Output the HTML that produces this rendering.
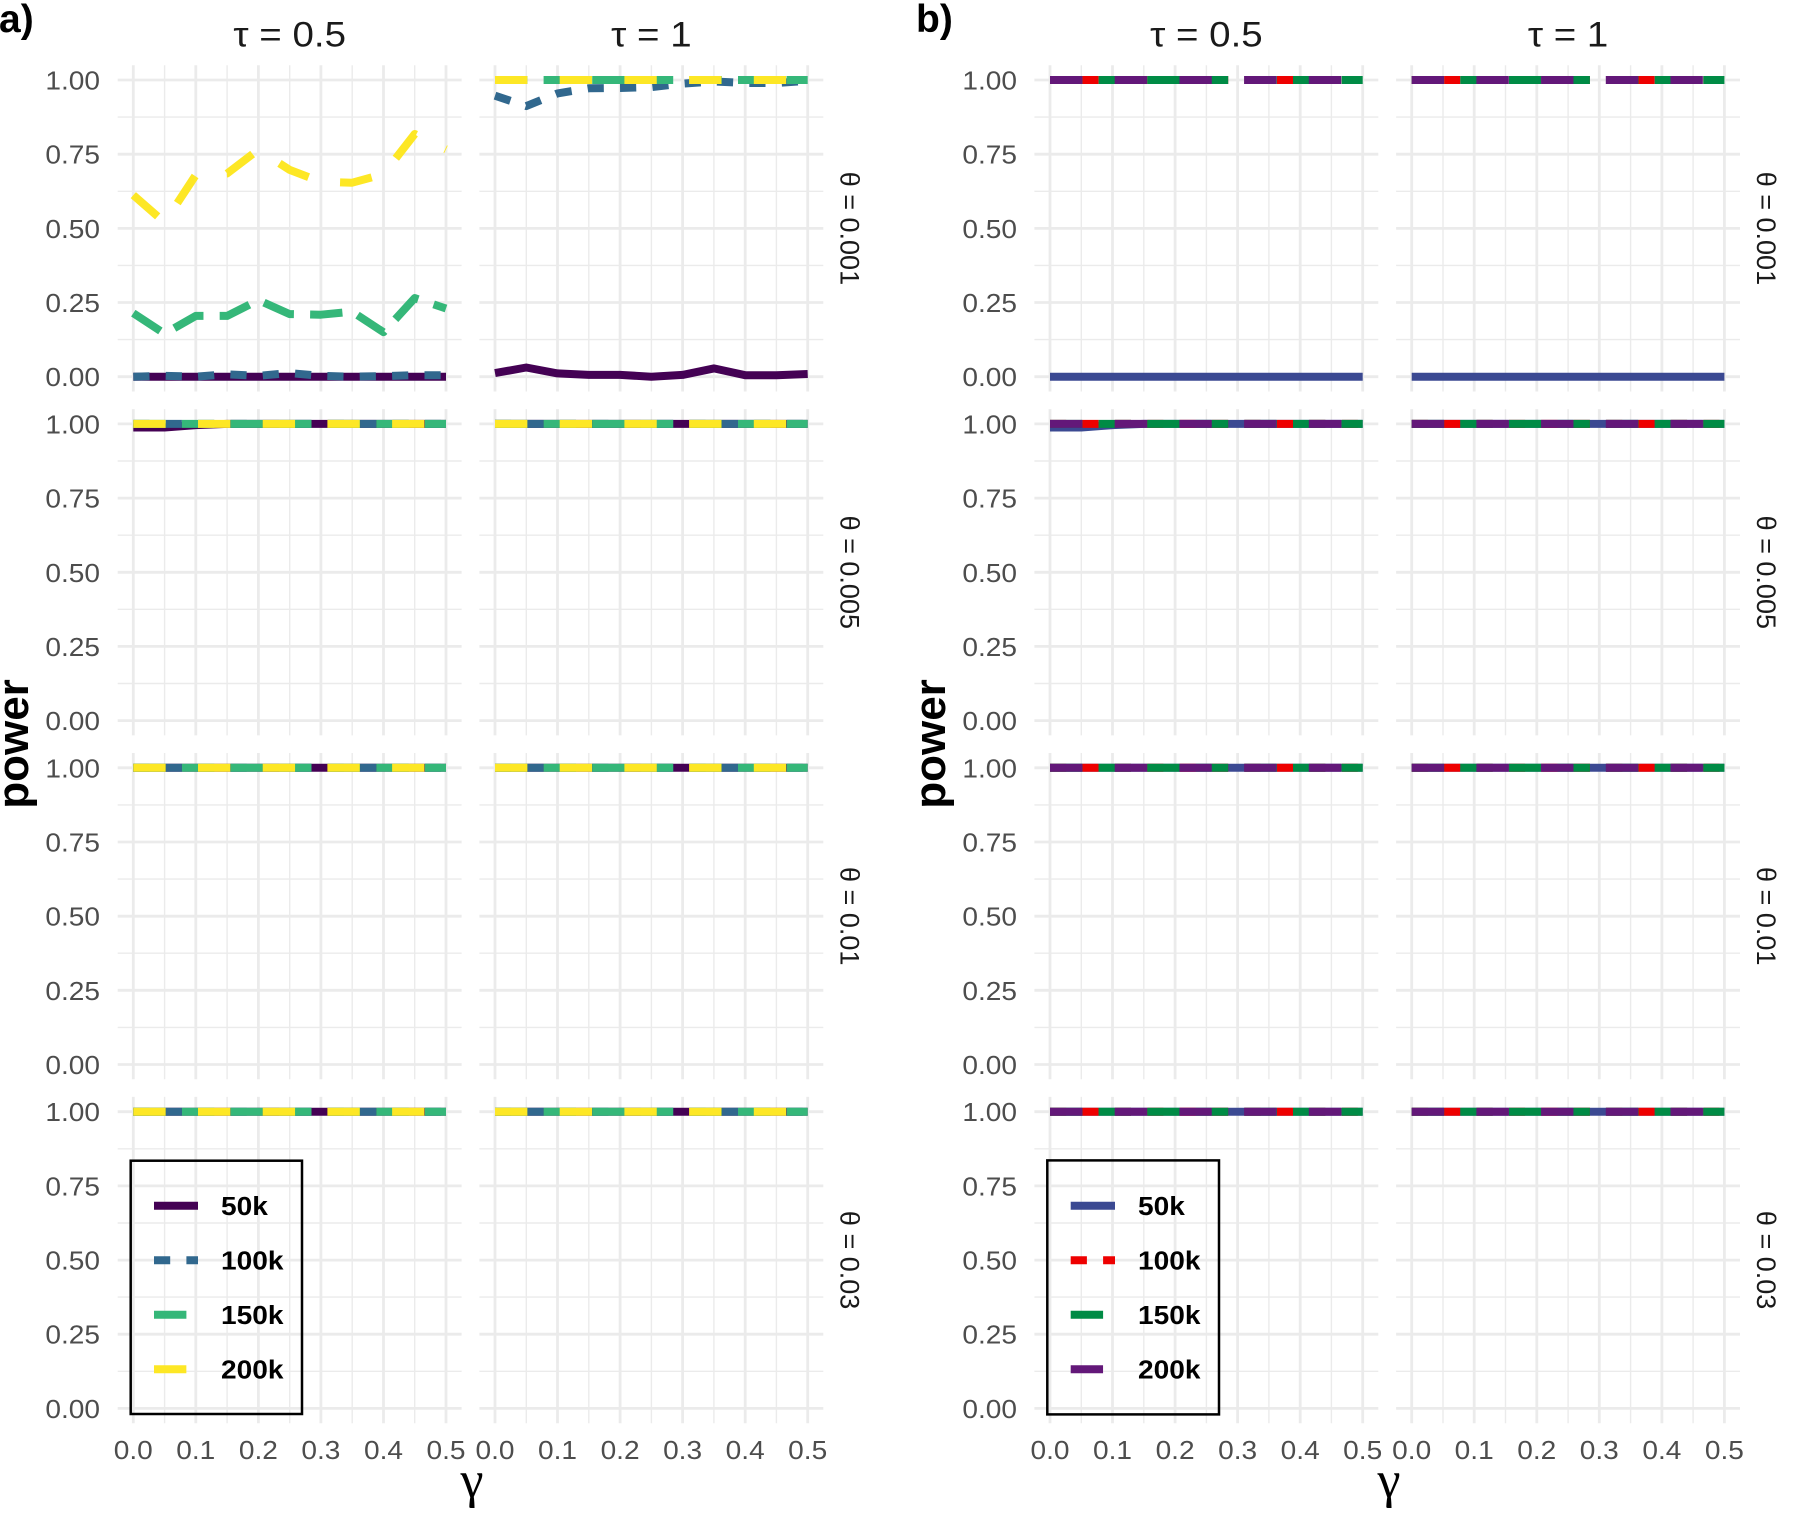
<!DOCTYPE html>
<html><head><meta charset="utf-8"><style>
html,body{margin:0;padding:0;background:#fff;}
svg{display:block;}
.tk{font-family:"Liberation Sans",sans-serif;font-size:26px;fill:#4D4D4D;text-anchor:middle;transform-box:fill-box;transform-origin:50% 50%;transform:scaleX(1.08);}
.ty{font-family:"Liberation Sans",sans-serif;font-size:26px;fill:#4D4D4D;text-anchor:end;transform-box:fill-box;transform-origin:100% 50%;transform:scaleX(1.08);}
.ti{font-family:"Liberation Sans",sans-serif;font-size:35px;fill:#1A1A1A;text-anchor:middle;transform-box:fill-box;transform-origin:50% 50%;transform:scaleX(1.1);}
.st{font-family:"Liberation Sans",sans-serif;font-size:27px;fill:#1A1A1A;text-anchor:middle;}
.lg{font-family:"Liberation Sans",sans-serif;font-size:26px;font-weight:bold;fill:#000;transform-box:fill-box;transform-origin:0% 50%;transform:scaleX(1.08);}
.pw{font-family:"Liberation Sans",sans-serif;font-size:44px;font-weight:bold;fill:#000;text-anchor:middle;}
.lab{font-family:"Liberation Sans",sans-serif;font-size:39px;font-weight:bold;fill:#000;}
.gm{font-family:"Liberation Serif",serif;font-size:52px;fill:#000;text-anchor:middle;}
</style></head><body>
<svg width="1795" height="1520" viewBox="0 0 1795 1520" xmlns="http://www.w3.org/2000/svg">
<defs>
<g id="grid" fill="none" stroke="#EBEBEB">
 <g stroke-width="1.4">
  <path d="M-15.6 37.1H328.3M-15.6 111.3H328.3M-15.6 185.4H328.3M-15.6 259.6H328.3"/>
  <path d="M31.3 -14.8V311.5M93.8 -14.8V311.5M156.4 -14.8V311.5M218.9 -14.8V311.5M281.4 -14.8V311.5"/>
 </g>
 <g stroke-width="2.8">
  <path d="M-15.6 0H328.3M-15.6 74.2H328.3M-15.6 148.4H328.3M-15.6 222.5H328.3M-15.6 296.7H328.3"/>
  <path d="M0 -14.8V311.5M62.5 -14.8V311.5M125.1 -14.8V311.5M187.6 -14.8V311.5M250.2 -14.8V311.5M312.7 -14.8V311.5"/>
 </g>
</g>
<g id="upA" fill="none" stroke-width="8">
 <path d="M0 0H312.7" stroke="#31688E" stroke-dasharray="16.2 16.2"/>
 <path d="M0 0H312.7" stroke="#35B779" stroke-dasharray="32.4 16.2"/>
 <path d="M0 0H312.7" stroke="#FDE725" stroke-dasharray="32.35 32.35"/>
</g>
<g id="upB" fill="none" stroke-width="8">
 <path d="M0 0H312.7" stroke="#EE0000" stroke-dasharray="16.2 16.2"/>
 <path d="M0 0H312.7" stroke="#008B45" stroke-dasharray="32.4 16.2"/>
 <path d="M0 0H312.7" stroke="#631879" stroke-dasharray="32.35 32.35"/>
</g>
<g id="fullA"><path d="M0 0H312.7" stroke="#440154" stroke-width="8" fill="none"/><use href="#upA"/></g>
<g id="fullB"><path d="M0 0H312.7" stroke="#3B4992" stroke-width="8" fill="none"/><use href="#upB"/></g>
</defs>
<rect width="1795" height="1520" fill="#fff"/>

<!-- grids -->
<g transform="translate(133.3,80)"><use href="#grid"/></g>
<g transform="translate(495,80)"><use href="#grid"/></g>
<g transform="translate(1050,80)"><use href="#grid"/></g>
<g transform="translate(1411.7,80)"><use href="#grid"/></g>
<g transform="translate(133.3,423.9)"><use href="#grid"/></g>
<g transform="translate(495,423.9)"><use href="#grid"/></g>
<g transform="translate(1050,423.9)"><use href="#grid"/></g>
<g transform="translate(1411.7,423.9)"><use href="#grid"/></g>
<g transform="translate(133.3,767.8)"><use href="#grid"/></g>
<g transform="translate(495,767.8)"><use href="#grid"/></g>
<g transform="translate(1050,767.8)"><use href="#grid"/></g>
<g transform="translate(1411.7,767.8)"><use href="#grid"/></g>
<g transform="translate(133.3,1111.7)"><use href="#grid"/></g>
<g transform="translate(495,1111.7)"><use href="#grid"/></g>
<g transform="translate(1050,1111.7)"><use href="#grid"/></g>
<g transform="translate(1411.7,1111.7)"><use href="#grid"/></g>

<!-- row 1 a col1 -->
<g transform="translate(133.3,80)" fill="none" stroke-width="8" stroke-linejoin="round">
 <path d="M0 296.7H312.7" stroke="#440154"/>
 <path d="M0 296.7L31.27 295.8L62.54 296.7L93.81 294.3L125.08 295.8L156.35 293.1L187.62 295.8L218.89 296.7L250.16 296.1L281.43 295.2L312.7 295.2" stroke="#31688E" stroke-dasharray="16.2 16.2"/>
 <path d="M0 233.2L31.27 253.7L62.54 235.9L93.81 235.9L125.08 220.1L156.35 234.1L187.62 234.7L218.89 231.7L250.16 252.2L281.43 218.1L312.7 228.5" stroke="#35B779" stroke-dasharray="32.4 16.2"/>
 <path d="M0 115.1L31.27 142.4L62.54 94.9L93.81 93.5L125.08 69.7L156.35 89.9L187.62 101.8L218.89 102.7L250.16 94.1L281.43 54L312.7 69.4" stroke="#FDE725" stroke-dasharray="32.35 32.35"/>
</g>
<!-- row 1 a col2 -->
<g transform="translate(495,80)" fill="none" stroke-width="8" stroke-linejoin="round">
 <path d="M0 293.1L31.27 287.5L62.54 293.4L93.81 294.9L125.08 294.9L156.35 296.7L187.62 294.9L218.89 288.4L250.16 295.2L281.43 295.2L312.7 294" stroke="#440154"/>
 <path d="M0 15.7L31.27 26.1L62.54 13.4L93.81 8.3L125.08 8L156.35 7.1L187.62 3.6L218.89 1.5L250.16 3L281.43 3L312.7 0.9" stroke="#31688E" stroke-dasharray="16.2 16.2"/>
 <path d="M0 0H312.7" stroke="#35B779" stroke-dasharray="32.4 16.2"/>
 <path d="M0 0H312.7" stroke="#FDE725" stroke-dasharray="32.35 32.35"/>
</g>
<!-- row 2 a -->
<g transform="translate(133.3,423.9)">
 <path d="M0 3.6L31.27 3.6L62.54 1.2L93.81 0H312.7" stroke="#440154" stroke-width="8" fill="none" stroke-linejoin="round"/>
 <use href="#upA"/>
</g>
<g transform="translate(495,423.9)"><use href="#fullA"/></g>
<g transform="translate(133.3,767.8)"><use href="#fullA"/></g>
<g transform="translate(495,767.8)"><use href="#fullA"/></g>
<g transform="translate(133.3,1111.7)"><use href="#fullA"/></g>
<g transform="translate(495,1111.7)"><use href="#fullA"/></g>

<!-- b panels -->
<g transform="translate(1050,80)">
 <path d="M0 296.7H312.7" stroke="#3B4992" stroke-width="8" fill="none"/>
 <use href="#upB"/>
</g>
<g transform="translate(1411.7,80)">
 <path d="M0 296.7H312.7" stroke="#3B4992" stroke-width="8" fill="none"/>
 <use href="#upB"/>
</g>
<g transform="translate(1050,423.9)">
 <path d="M0 3.6L31.27 3.6L62.54 1.2L93.81 0H312.7" stroke="#3B4992" stroke-width="8" fill="none" stroke-linejoin="round"/>
 <use href="#upB"/>
</g>
<g transform="translate(1411.7,423.9)"><use href="#fullB"/></g>
<g transform="translate(1050,767.8)"><use href="#fullB"/></g>
<g transform="translate(1411.7,767.8)"><use href="#fullB"/></g>
<g transform="translate(1050,1111.7)"><use href="#fullB"/></g>
<g transform="translate(1411.7,1111.7)"><use href="#fullB"/></g>

<!-- panel labels -->
<text class="lab" x="-1" y="32">a)</text>
<text class="lab" x="916" y="32">b)</text>

<!-- column titles -->
<text class="ti" x="289.7" y="46.7">τ = 0.5</text>
<text class="ti" x="651.4" y="46.7">τ = 1</text>
<text class="ti" x="1206.4" y="46.7">τ = 0.5</text>
<text class="ti" x="1568.1" y="46.7">τ = 1</text>

<!-- strip labels -->
<text class="st" transform="translate(840.5,228.4) rotate(90)">θ = 0.001</text>
<text class="st" transform="translate(840.5,572.3) rotate(90)">θ = 0.005</text>
<text class="st" transform="translate(840.5,916.2) rotate(90)">θ = 0.01</text>
<text class="st" transform="translate(840.5,1260.1) rotate(90)">θ = 0.03</text>
<text class="st" transform="translate(1757,228.4) rotate(90)">θ = 0.001</text>
<text class="st" transform="translate(1757,572.3) rotate(90)">θ = 0.005</text>
<text class="st" transform="translate(1757,916.2) rotate(90)">θ = 0.01</text>
<text class="st" transform="translate(1757,1260.1) rotate(90)">θ = 0.03</text>

<!-- y tick labels a -->
<text class="ty" x="100" y="89.5">1.00</text><text class="ty" x="100" y="163.7">0.75</text><text class="ty" x="100" y="237.9">0.50</text><text class="ty" x="100" y="312">0.25</text><text class="ty" x="100" y="386.2">0.00</text>
<text class="ty" x="100" y="433.4">1.00</text><text class="ty" x="100" y="507.6">0.75</text><text class="ty" x="100" y="581.8">0.50</text><text class="ty" x="100" y="655.9">0.25</text><text class="ty" x="100" y="730.1">0.00</text>
<text class="ty" x="100" y="777.3">1.00</text><text class="ty" x="100" y="851.5">0.75</text><text class="ty" x="100" y="925.7">0.50</text><text class="ty" x="100" y="999.8">0.25</text><text class="ty" x="100" y="1074">0.00</text>
<text class="ty" x="100" y="1121.2">1.00</text><text class="ty" x="100" y="1195.4">0.75</text><text class="ty" x="100" y="1269.6">0.50</text><text class="ty" x="100" y="1343.7">0.25</text><text class="ty" x="100" y="1417.9">0.00</text>
<!-- y tick labels b -->
<text class="ty" x="1017" y="89.5">1.00</text><text class="ty" x="1017" y="163.7">0.75</text><text class="ty" x="1017" y="237.9">0.50</text><text class="ty" x="1017" y="312">0.25</text><text class="ty" x="1017" y="386.2">0.00</text>
<text class="ty" x="1017" y="433.4">1.00</text><text class="ty" x="1017" y="507.6">0.75</text><text class="ty" x="1017" y="581.8">0.50</text><text class="ty" x="1017" y="655.9">0.25</text><text class="ty" x="1017" y="730.1">0.00</text>
<text class="ty" x="1017" y="777.3">1.00</text><text class="ty" x="1017" y="851.5">0.75</text><text class="ty" x="1017" y="925.7">0.50</text><text class="ty" x="1017" y="999.8">0.25</text><text class="ty" x="1017" y="1074">0.00</text>
<text class="ty" x="1017" y="1121.2">1.00</text><text class="ty" x="1017" y="1195.4">0.75</text><text class="ty" x="1017" y="1269.6">0.50</text><text class="ty" x="1017" y="1343.7">0.25</text><text class="ty" x="1017" y="1417.9">0.00</text>

<!-- x tick labels -->
<text class="tk" x="133.3" y="1459">0.0</text><text class="tk" x="195.8" y="1459">0.1</text><text class="tk" x="258.4" y="1459">0.2</text><text class="tk" x="320.9" y="1459">0.3</text><text class="tk" x="383.5" y="1459">0.4</text><text class="tk" x="446" y="1459">0.5</text>
<text class="tk" x="495" y="1459">0.0</text><text class="tk" x="557.5" y="1459">0.1</text><text class="tk" x="620.1" y="1459">0.2</text><text class="tk" x="682.6" y="1459">0.3</text><text class="tk" x="745.2" y="1459">0.4</text><text class="tk" x="807.7" y="1459">0.5</text>
<text class="tk" x="1050" y="1459">0.0</text><text class="tk" x="1112.5" y="1459">0.1</text><text class="tk" x="1175.1" y="1459">0.2</text><text class="tk" x="1237.6" y="1459">0.3</text><text class="tk" x="1300.2" y="1459">0.4</text><text class="tk" x="1362.7" y="1459">0.5</text>
<text class="tk" x="1411.7" y="1459">0.0</text><text class="tk" x="1474.2" y="1459">0.1</text><text class="tk" x="1536.8" y="1459">0.2</text><text class="tk" x="1599.3" y="1459">0.3</text><text class="tk" x="1661.9" y="1459">0.4</text><text class="tk" x="1724.4" y="1459">0.5</text>

<!-- axis titles -->
<text class="gm" x="472" y="1497">γ</text>
<text class="gm" x="1389" y="1497">γ</text>
<text class="pw" transform="translate(28,744) rotate(-90)">power</text>
<text class="pw" transform="translate(945,744) rotate(-90)">power</text>

<!-- legend a -->
<rect x="130.7" y="1160.7" width="171.3" height="253.3" fill="none" stroke="#000" stroke-width="2.5"/>
<g fill="none" stroke-width="8">
 <path d="M154 1205.7H198" stroke="#440154"/>
 <path d="M154 1260.2H198" stroke="#31688E" stroke-dasharray="16.2 16.2"/>
 <path d="M154 1314.7H198" stroke="#35B779" stroke-dasharray="32.4 16.2"/>
 <path d="M154 1369.2H198" stroke="#FDE725" stroke-dasharray="32.35 32.35"/>
</g>
<text class="lg" x="221" y="1215">50k</text>
<text class="lg" x="221" y="1269.5">100k</text>
<text class="lg" x="221" y="1324">150k</text>
<text class="lg" x="221" y="1378.5">200k</text>

<!-- legend b -->
<rect x="1047.3" y="1160.4" width="171.7" height="254" fill="none" stroke="#000" stroke-width="2.5"/>
<g fill="none" stroke-width="8">
 <path d="M1070.7 1205.7H1115" stroke="#3B4992"/>
 <path d="M1070.7 1260.2H1115" stroke="#EE0000" stroke-dasharray="16.2 16.2"/>
 <path d="M1070.7 1314.7H1115" stroke="#008B45" stroke-dasharray="32.4 16.2"/>
 <path d="M1070.7 1369.2H1115" stroke="#631879" stroke-dasharray="32.35 32.35"/>
</g>
<text class="lg" x="1138" y="1215">50k</text>
<text class="lg" x="1138" y="1269.5">100k</text>
<text class="lg" x="1138" y="1324">150k</text>
<text class="lg" x="1138" y="1378.5">200k</text>
</svg>
</body></html>
